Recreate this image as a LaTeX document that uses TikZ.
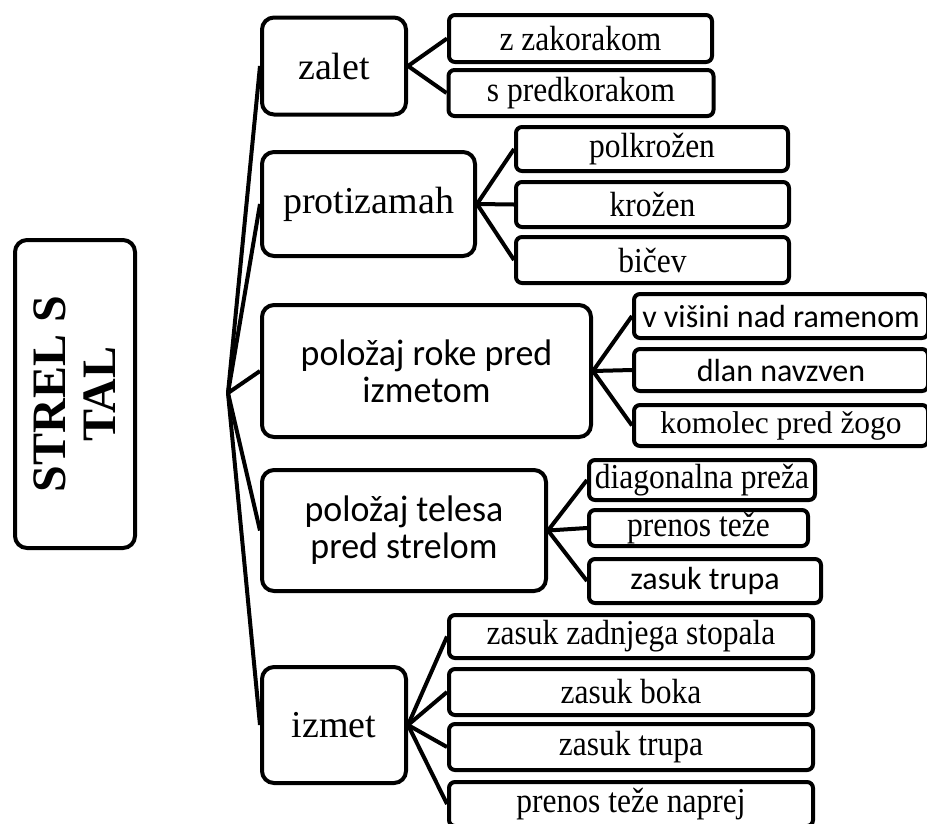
\documentclass[tikz,border=0pt]{standalone}
\usepackage{fontspec}
\setmainfont{Liberation Serif}
\newfontfamily\calibri{Carlito}
\newfontfamily\narrow[FakeStretch=0.9]{Liberation Serif}
\newfontfamily\calibrinarrow[FakeStretch=0.97]{Carlito}

\begin{document}
\begin{tikzpicture}[x=1pt,y=1pt,yscale=-1,
  box/.style={draw,line width=4,rounded corners=12,inner sep=0,align=center,font=\fontsize{38}{38}\selectfont},
  leaf/.style={draw,line width=4,rounded corners=6,inner sep=0,font=\narrow\fontsize{35}{35}\selectfont},
  sansbig/.style={font=\calibrinarrow\fontsize{37}{37}\selectfont},
  sanssmall/.style={font=\calibri\fontsize{32}{32}\selectfont},
  link/.style={line width=4}]
  \useasboundingbox (0,0) rectangle (927,823);

  \node[box,rotate=90,minimum width=308,minimum height=120,font=\bfseries\fontsize{48}{50}\selectfont] (root) at (75,394) {STREL S\\TAL};

  \node[box,minimum width=144,minimum height=97] (zalet) at (334,66) {zalet};
  \node[box,minimum width=213,minimum height=104] (proti) at (368.5,204) {protizamah};
  \node[box,sansbig,minimum width=329,minimum height=132] (roke) at (426.5,371) {položaj roke pred\\izmetom};
  \node[box,sansbig,minimum width=284,minimum height=121] (telesa) at (404,530.5) {položaj telesa\\pred strelom};
  \node[box,minimum width=144,minimum height=116] (izmet) at (334,725) {izmet};

  \node[leaf,minimum width=263,minimum height=47] (zakorak) at (580.5,38.5) {z zakorakom};
  \node[leaf,minimum width=265,minimum height=46] (predkorak) at (581,93) {s predkorakom};
  \node[leaf,minimum width=272,minimum height=44] (polkrozen) at (652,149) {polkrožen};
  \node[leaf,minimum width=273,minimum height=45] (krozen) at (652.5,204.5) {krožen};
  \node[leaf,minimum width=273,minimum height=46] (bicev) at (652.5,260) {bičev};
  \node[leaf,sanssmall,minimum width=294,minimum height=44] (visina) at (781,316) {v višini nad ramenom};
  \node[leaf,sanssmall,minimum width=294,minimum height=42] (dlan) at (781,370) {dlan navzven};
  \node[leaf,font=\fontsize{31.5}{32}\selectfont,minimum width=294,minimum height=41] (komolec) at (781,425.5) {komolec pred žogo};
  \node[leaf,minimum width=226,minimum height=40] (preza) at (702,480) {diagonalna preža};
  \node[leaf,minimum width=219,minimum height=36] (prenos) at (698.5,528) {prenos teže};
  \node[leaf,sanssmall,minimum width=232,minimum height=44] (trupa) at (705,581) {zasuk trupa};
  \node[leaf,minimum width=364,minimum height=43] (stopalo) at (631,636.5) {zasuk zadnjega stopala};
  \node[leaf,minimum width=364,minimum height=46] (bok) at (631,692) {zasuk boka};
  \node[leaf,minimum width=364,minimum height=46] (trup) at (631,747) {zasuk trupa};
  \node[leaf,minimum width=364,minimum height=44] (naprej) at (631,804) {prenos teže naprej};

  \coordinate (fan) at (228,393);
  \foreach \n in {zalet,proti,roke,telesa,izmet}
    \draw[link] (fan) -- (\n.west);
  \foreach \n in {zakorak,predkorak}
    \draw[link] (zalet.east) -- (\n.west);
  \foreach \n in {polkrozen,krozen,bicev}
    \draw[link] (proti.east) -- (\n.west);
  \foreach \n in {visina,dlan,komolec}
    \draw[link] (roke.east) -- (\n.west);
  \foreach \n in {preza,prenos,trupa}
    \draw[link] (telesa.east) -- (\n.west);
  \foreach \n in {stopalo,bok,trup,naprej}
    \draw[link] (izmet.east) -- (\n.west);
\end{tikzpicture}
\end{document}
